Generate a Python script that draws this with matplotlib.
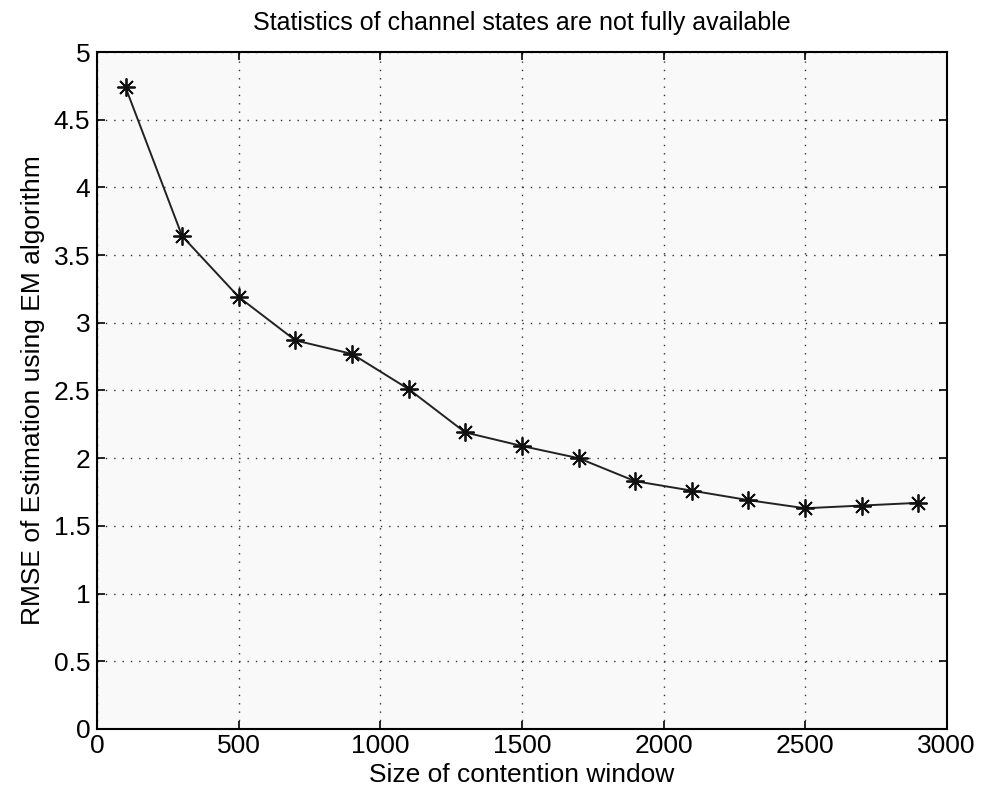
import numpy as np
import matplotlib
matplotlib.use('Agg')
import matplotlib.pyplot as plt

plt.rcParams['font.family'] = ['Liberation Sans', 'DejaVu Sans']

# contention window size vs RMSE
cw = [100, 300, 500, 700, 900, 1100, 1300, 1500, 1700, 1900, 2100, 2300, 2500, 2700, 2900]
rmse = [4.74, 3.64, 3.19, 2.87, 2.77, 2.51, 2.19, 2.09, 2.00, 1.83, 1.76, 1.69, 1.63, 1.65, 1.67]

xticks = [0, 500, 1000, 1500, 2000, 2500, 3000]
yticks = [0, 0.5, 1, 1.5, 2, 2.5, 3, 3.5, 4, 4.5, 5]

fig = plt.figure(figsize=(9.82, 8.01), dpi=100)
ax = fig.add_axes([0.099, 0.09, 0.865, 0.845])
ax.set_facecolor('#f9f9f9')

ax.plot(cw, rmse, '-', color='#222222', lw=1.4,
        marker=(8, 2, 0), ms=13, mew=1.3, mec='#111111')

ax.set_xlim(0, 3000)
ax.set_ylim(0, 5)
ax.set_xticks(xticks)
ax.set_yticks(yticks)
ax.set_yticklabels(['0', '0.5', '1', '1.5', '2', '2.5', '3', '3.5', '4', '4.5', '5'])
ax.tick_params(direction='in', length=6, width=1.2, labelsize=19, top=True, right=True, pad=5)
ax.tick_params(axis='x', pad=4)
ax.grid(True, ls=(0, (1, 5)), color='#333333', lw=1.0)
for s in ax.spines.values():
    s.set_linewidth(1.5)

ax.set_title('Statistics of channel states are not fully available', fontsize=18, pad=16)
ax.set_xlabel('Size of contention window', fontsize=19, labelpad=3)
ax.set_ylabel('RMSE of Estimation using EM algorithm', fontsize=19, labelpad=6)

fig.savefig('out.png', dpi=100)
